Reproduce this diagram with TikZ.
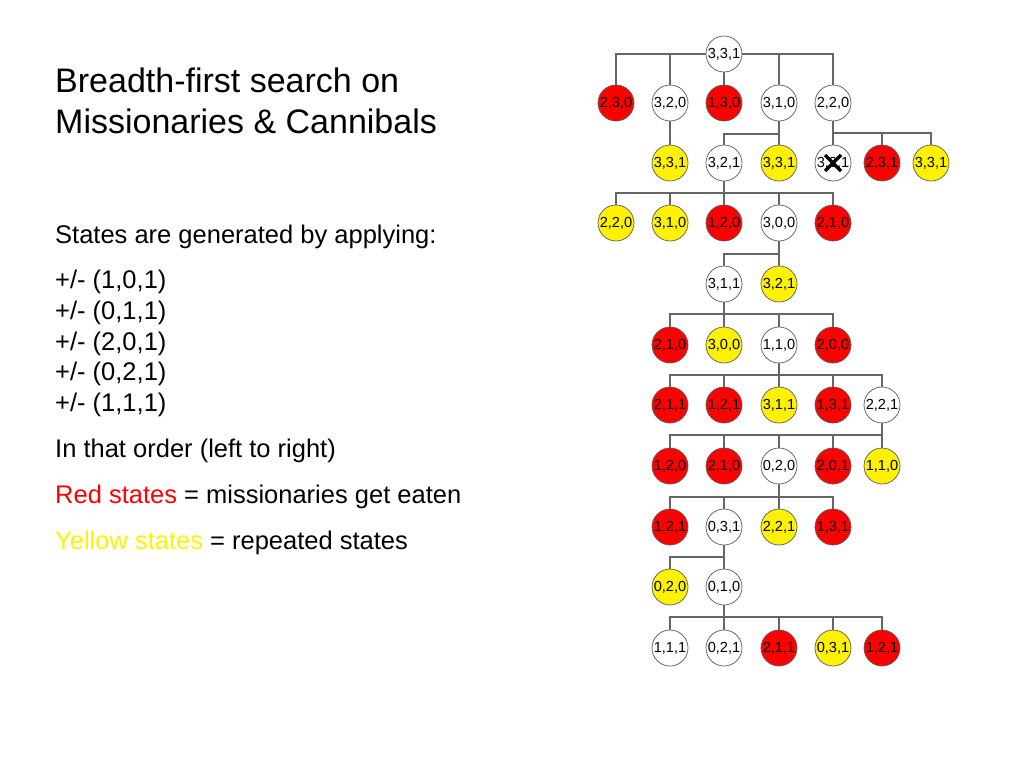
\documentclass[tikz,border=0pt]{standalone}
\usepackage{fontspec}
\setmainfont{Liberation Sans}
\begin{document}
\begin{tikzpicture}[x=1pt,y=-1pt,
  st/.style={circle,draw=black!65,line width=0.7pt,minimum size=36pt,inner sep=0pt,
    font=\fontsize{14.6}{15}\selectfont,text=black},
  rs/.style={st,fill=red},
  ys/.style={st,fill=yellow},
  ws/.style={st,fill=white},
  conn/.style={draw=black!60,line width=1.1pt},
  txt/.style={anchor=base west,inner sep=0pt,font=\fontsize{25.5}{30}\selectfont},
  ttl/.style={anchor=base west,inner sep=0pt,font=\fontsize{34}{40}\selectfont}]
\useasboundingbox (0,0) rectangle (1024,768);
\fill[white] (0,0) rectangle (1024,768);

% left text
\node[ttl] (t1) at (55,92) {Breadth-first search on};
\node[ttl] (t2) at (55,133) {Missionaries \& Cannibals};
\node[txt] (s0) at (55,243) {States are generated by applying:};
\node[txt] (s1) at (55,288) {+/- (1,0,1)};
\node[txt] (s2) at (55,319) {+/- (0,1,1)};
\node[txt] (s3) at (55,350) {+/- (2,0,1)};
\node[txt] (s4) at (55,380) {+/- (0,2,1)};
\node[txt] (s5) at (55,411) {+/- (1,1,1)};
\node[txt] (s6) at (55,457) {In that order (left to right)};
\node[txt] (s7) at (55,503) {\textcolor{red}{Red states} = missionaries get eaten};
\node[txt] (s8) at (55,549) {\textcolor{yellow}{Yellow states} = repeated states};

% tree nodes
\node[ws] (r0) at (724,54) {3,3,1};
\node[rs] (a1) at (616,103) {2,3,0};
\node[ws] (a2) at (670,103) {3,2,0};
\node[rs] (a3) at (724,103) {1,3,0};
\node[ws] (a4) at (779,103) {3,1,0};
\node[ws] (a5) at (833,103) {2,2,0};

\node[ys] (b1) at (670,163) {3,3,1};
\node[ws] (b2) at (724,163) {3,2,1};
\node[ys] (b3) at (779,163) {3,3,1};
\node[ws] (b4) at (833,163) {3,2,1};
\node[rs] (b5) at (882,163) {2,3,1};
\node[ys] (b6) at (931,163) {3,3,1};

\node[ys] (c1) at (616,223) {2,2,0};
\node[ys] (c2) at (670,223) {3,1,0};
\node[rs] (c3) at (724,223) {1,2,0};
\node[ws] (c4) at (779,223) {3,0,0};
\node[rs] (c5) at (833,223) {2,1,0};

\node[ws] (d1) at (724,284) {3,1,1};
\node[ys] (d2) at (779,284) {3,2,1};

\node[rs] (e1) at (670,345) {2,1,0};
\node[ys] (e2) at (724,345) {3,0,0};
\node[ws] (e3) at (779,345) {1,1,0};
\node[rs] (e4) at (833,345) {2,0,0};

\node[rs] (f1) at (670,405) {2,1,1};
\node[rs] (f2) at (724,405) {1,2,1};
\node[ys] (f3) at (779,405) {3,1,1};
\node[rs] (f4) at (833,405) {1,3,1};
\node[ws] (f5) at (882,405) {2,2,1};

\node[rs] (g1) at (670,466) {1,2,0};
\node[rs] (g2) at (724,466) {2,1,0};
\node[ws] (g3) at (779,466) {0,2,0};
\node[rs] (g4) at (833,466) {2,0,1};
\node[ys] (g5) at (882,466) {1,1,0};

\node[rs] (h1) at (670,527) {1,2,1};
\node[ws] (h2) at (724,527) {0,3,1};
\node[ys] (h3) at (779,527) {2,2,1};
\node[rs] (h4) at (833,527) {1,3,1};

\node[ys] (i1) at (670,587) {0,2,0};
\node[ws] (i2) at (724,587) {0,1,0};

\node[ws] (j1) at (670,648) {1,1,1};
\node[ws] (j2) at (724,648) {0,2,1};
\node[rs] (j3) at (779,648) {2,1,1};
\node[ys] (j4) at (833,648) {0,3,1};
\node[rs] (j5) at (882,648) {1,2,1};

% connectors
\draw[conn] (r0.west) -| (a1.north);
\draw[conn] (r0.west) -| (a2.north);
\draw[conn] (r0.south) -- (a3.north);
\draw[conn] (r0.east) -| (a4.north);
\draw[conn] (r0.east) -| (a5.north);

\draw[conn] (a2.south) -- (b1.north);
\foreach \c in {b2,b3}
  \draw[conn] (a4.south) -- (a4.south |- 0,134) -| (\c.north);
\foreach \c in {b4,b5,b6}
  \draw[conn] (a5.south) -- (a5.south |- 0,133) -| (\c.north);
\foreach \c in {c1,c2,c3,c4,c5}
  \draw[conn] (b2.south) -- (b2.south |- 0,193) -| (\c.north);
\foreach \c in {d1,d2}
  \draw[conn] (c4.south) -- (c4.south |- 0,254) -| (\c.north);
\foreach \c in {e1,e2,e3,e4}
  \draw[conn] (d1.south) -- (d1.south |- 0,314) -| (\c.north);
\foreach \c in {f1,f2,f3,f4,f5}
  \draw[conn] (e3.south) -- (e3.south |- 0,375) -| (\c.north);
\foreach \c in {g1,g2,g3,g4,g5}
  \draw[conn] (f5.south) -- (f5.south |- 0,435) -| (\c.north);
\foreach \c in {h1,h2,h3,h4}
  \draw[conn] (g3.south) -- (g3.south |- 0,497) -| (\c.north);
\foreach \c in {i1,i2}
  \draw[conn] (h2.south) -- (h2.south |- 0,557) -| (\c.north);
\foreach \c in {j1,j2,j3,j4,j5}
  \draw[conn] (i2.south) -- (i2.south |- 0,617) -| (\c.north);

% cross mark
\draw[black,line width=3.5pt] (b4.center) ++(-8,-8) -- ++(16,16);
\draw[black,line width=3.5pt] (b4.center) ++(8,-8) -- ++(-16,16);
\end{tikzpicture}
\end{document}
